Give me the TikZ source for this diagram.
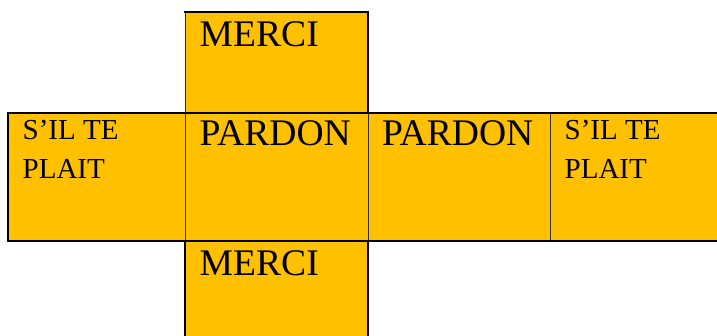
\documentclass[tikz,border=0pt]{standalone}
\usepackage{fontspec}
\setmainfont{Liberation Serif}
\definecolor{gold}{HTML}{FFC000}
\definecolor{thinline}{HTML}{303030}
\begin{document}
\begin{tikzpicture}[x=1pt,y=-1pt,
  cell/.style={fill=gold, draw=thinline, line width=1pt, inner sep=0pt, outer sep=0pt, anchor=north west},
  bigtxt/.style={font=\fontsize{37.6}{40}\selectfont, inner sep=0pt, anchor=base west},
  smalltxt/.style={font=\fontsize{29}{39}\selectfont, inner sep=0pt, anchor=base west, align=left},
  outer/.style={line width=1.5pt, black, line cap=rect}]
\useasboundingbox (0,0) rectangle (717,336);
% cells
\node[cell, minimum width=183pt, minimum height=101pt] (top) at (185,12) {};
\node[cell, minimum width=177pt, minimum height=128pt] (left) at (8,113) {};
\node[cell, minimum width=183pt, minimum height=128pt] (c1) at (185,113) {};
\node[cell, minimum width=182pt, minimum height=128pt] (c2) at (368,113) {};
\node[cell, minimum width=170pt, minimum height=128pt, draw=none] (right) at (550,113) {};
\draw[thinline, line width=1pt] (right.north west) -- (right.south west);
\node[cell, minimum width=183pt, minimum height=98pt, draw=none] (bottom) at (185,241) {};
% outer outline
\draw[outer] (top.north west) -- (top.north east) -- (top.south east);
\draw[outer] (left.north west) -- (right.north east);
\draw[outer] (left.south west) -- (right.south east);
\draw[outer] (left.north west) -- (left.south west);
\draw[outer] (bottom.north west) -- (bottom.south west);
\draw[outer] (bottom.north east) -- (bottom.south east);
% texts
\node[bigtxt] (t1) at (199.5,46.7) {MERCI};
\node[bigtxt] (t2) at (199.5,146) {PARDON};
\node[bigtxt] (t3) at (382,146) {PARDON};
\node[bigtxt] (t4) at (199.5,275.7) {MERCI};
\node[smalltxt] (s1) at (22.5,140) {S’IL TE};
\node[smalltxt] (s2) at (22.5,179) {PLAIT};
\node[smalltxt] (s3) at (564.5,140) {S’IL TE};
\node[smalltxt] (s4) at (564.5,179) {PLAIT};
\end{tikzpicture}
\end{document}
